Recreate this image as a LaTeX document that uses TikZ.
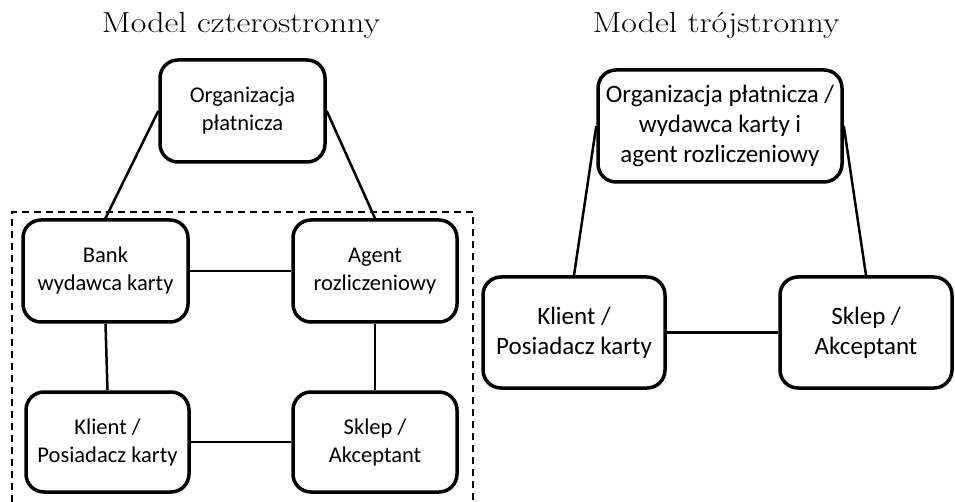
\documentclass[tikz,border=0pt]{standalone}
\usepackage{fontspec}
\newfontfamily\boxfont{Carlito}
\begin{document}
\begin{tikzpicture}[x=1pt,y=-1pt,
  party/.style={draw=black, line width=3.5pt, rounded corners=18pt, fill=white,
    align=center, inner sep=2pt, font=\boxfont\fontsize{22.5}{28}\selectfont},
  bigparty/.style={party, font=\boxfont\fontsize{25}{30}\selectfont},
  link/.style={draw=black, line width=2.5pt},
  heading/.style={anchor=base, inner sep=0pt, font=\fontsize{29}{34}\selectfont},
  zone/.style={draw=black, line width=1.5pt, dash pattern=on 7pt off 5pt}]
\useasboundingbox (0,0) rectangle (955,502);

% ---- four-party model ----
\node[heading] (t4) at (241,33) {\scalebox{1.17}[1]{Model czterostronny}};
\draw[zone] (12,502) -- (12,212) -- (473,212) -- (473,502);

\node[party, minimum width=165pt, minimum height=102pt] (org4) at (242.5,111) {Organizacja\\płatnicza};
\node[party, minimum width=165pt, minimum height=102pt] (bank) at (105.5,271) {Bank\\wydawca karty};
\node[party, minimum width=164pt, minimum height=102pt] (agent) at (375,271) {Agent\\rozliczeniowy};
\node[party, minimum width=163pt, minimum height=100pt] (client4) at (107.5,442) {Klient /\\Posiadacz karty};
\node[party, minimum width=164pt, minimum height=100pt] (shop4) at (375,442) {Sklep /\\Akceptant};

\draw[link] (org4.west) -- (bank.north);
\draw[link] (org4.east) -- (agent.north);
\draw[link] (bank.east) -- (agent.west);
\draw[link] (bank.south) -- (client4.north);
\draw[link] (agent.south) -- (shop4.north);
\draw[link] (client4.east) -- (shop4.west);

% ---- three-party model ----
\node[heading] (t3) at (716,33) {\scalebox{1.17}[1]{Model trójstronny}};

\node[bigparty, minimum width=244pt, minimum height=112pt] (org3) at (720,126) {Organizacja płatnicza /\\wydawca karty i\\agent rozliczeniowy};
\node[bigparty, minimum width=182pt, minimum height=111pt] (client3) at (574,332.5) {Klient /\\Posiadacz karty};
\node[bigparty, minimum width=172pt, minimum height=111pt] (shop3) at (866,332.5) {Sklep /\\Akceptant};

\draw[link] (org3.west) -- (client3.north);
\draw[link] (org3.east) -- (shop3.north);
\draw[link] (client3.east) -- (shop3.west);
\end{tikzpicture}
\end{document}
